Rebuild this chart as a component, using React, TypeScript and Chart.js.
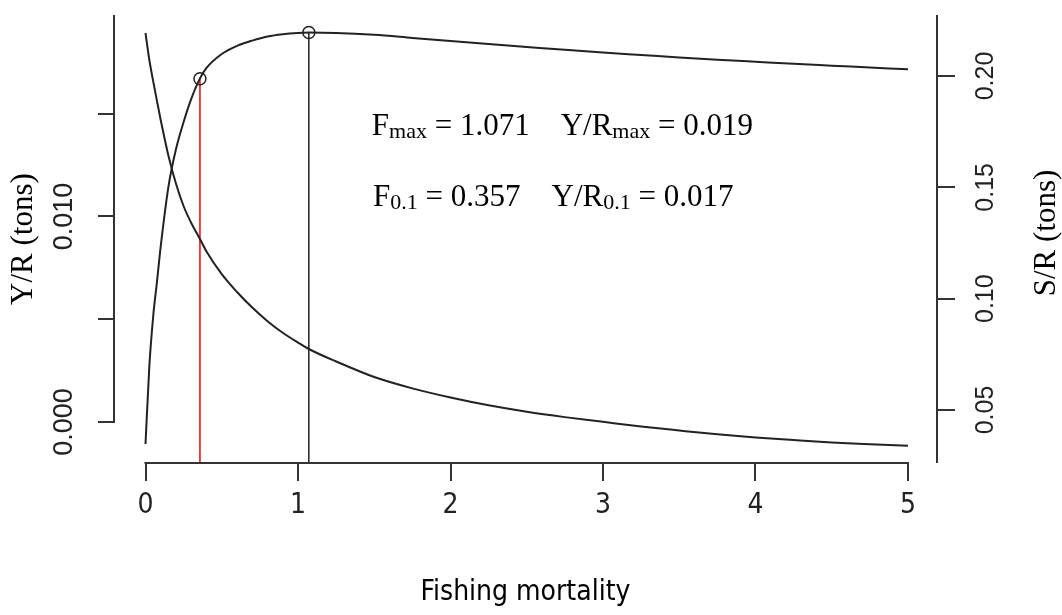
import React, { useEffect, useRef } from "react";
import { Chart, registerables } from "chart.js";

Chart.register(...registerables);

// ---- data ----
const fishingMortality = [
  0, 0.025, 0.05, 0.075, 0.1, 0.15, 0.2, 0.25, 0.3, 0.357, 0.4, 0.5, 0.6, 0.7, 0.8, 0.9, 1.0, 1.071,
  1.25, 1.5, 1.75, 2, 2.25, 2.5, 2.75, 3, 3.25, 3.5, 3.75, 4, 4.25, 4.5, 4.75, 5,
];
const yieldPerRecruit = [
  -0.00107, 0.0027, 0.00511, 0.00681, 0.00856, 0.01143, 0.01328, 0.0146, 0.01572, 0.01672, 0.01723,
  0.01791, 0.0183, 0.01856, 0.01876, 0.01887, 0.01893, 0.01895, 0.01893, 0.01884, 0.01869, 0.01854,
  0.01839, 0.01825, 0.01811, 0.01798, 0.01786, 0.01774, 0.01763, 0.01753, 0.01743, 0.01734, 0.01725,
  0.01716,
];
const spawnerPerRecruit = [
  0.2193, 0.2072, 0.1978, 0.1888, 0.1801, 0.1643, 0.1516, 0.1415, 0.134, 0.1268, 0.1212, 0.111,
  0.103, 0.096, 0.0899, 0.0847, 0.0803, 0.0774, 0.0718, 0.0648, 0.0597, 0.0556, 0.0521, 0.0492,
  0.0468, 0.0447, 0.0426, 0.0408, 0.0391, 0.0377, 0.0365, 0.0354, 0.0346, 0.0339,
];

const xTicks = [0, 1, 2, 3, 4, 5];
const yrTicks = [0, 0.005, 0.01, 0.015];
const yrTickLabels = ["0.000", "", "0.010", ""];
const srTicks = [0.05, 0.1, 0.15, 0.2];
const srTickLabels = ["0.05", "0.10", "0.15", "0.20"];

const F01 = 0.357;
const YR01 = 0.0167;
const FMAX = 1.071;
const YRMAX = 0.01895;

const line1 = [
  ["F", false],
  ["max", true],
  [" = 1.071    ", false],
  ["Y/R", false],
  ["max", true],
  [" = 0.019", false],
];
const line2 = [
  ["F", false],
  ["0.1", true],
  [" = 0.357    ", false],
  ["Y/R", false],
  ["0.1", true],
  [" = 0.017", false],
];

// ---- scale ranges (layout) ----
const X_MIN = -0.2066;
const X_MAX = 5.1902;
const YR_MIN = -0.001995;
const YR_MAX = 0.019805;
const SR_MIN = 0.0262;
const SR_MAX = 0.22739;

const SERIF = '"Liberation Serif", "Times New Roman", Times, serif';
const SANS = '"Liberation Sans", Arial, Helvetica, sans-serif';
const NARROW = '"Liberation Sans Narrow", "Arial Narrow", "DejaVu Sans Condensed", "Liberation Sans", sans-serif';
const INK = "#222";
const AXIS = "#333";

const noPad = (s: any) => {
  s.paddingTop = 0;
  s.paddingBottom = 0;
  s.paddingLeft = 0;
  s.paddingRight = 0;
};

const overlayPlugin = {
  id: "overlay",
  afterDraw(chart: any) {
    const { ctx, chartArea, scales } = chart;
    const xs = scales.x;
    const yl = scales.y;
    ctx.save();
    ctx.strokeStyle = AXIS;
    ctx.lineWidth = 2;
    ctx.beginPath();
    ctx.moveTo(xs.getPixelForValue(xTicks[0]) - 1, chartArea.bottom);
    ctx.lineTo(xs.getPixelForValue(xTicks[xTicks.length - 1]) + 1, chartArea.bottom);
    ctx.stroke();
    ctx.beginPath();
    ctx.moveTo(chartArea.left, yl.getPixelForValue(yrTicks[0]) + 1);
    ctx.lineTo(chartArea.left, chartArea.top);
    ctx.stroke();
    ctx.beginPath();
    ctx.moveTo(chartArea.right, chartArea.top);
    ctx.lineTo(chartArea.right, chartArea.bottom);
    ctx.stroke();

    // right axis title (reads bottom to top)
    ctx.save();
    ctx.translate(chartArea.right + 110, (chartArea.top + chartArea.bottom) / 2 - 6);
    ctx.rotate(-Math.PI / 2);
    ctx.fillStyle = "#000";
    ctx.font = `31px ${SERIF}`;
    ctx.textAlign = "center";
    ctx.textBaseline = "middle";
    ctx.fillText("S/R (tons)", 0, 0);
    ctx.restore();

    // annotation text with subscripts
    const drawRich = (parts: any[], x: number, y: number) => {
      ctx.fillStyle = "#000";
      ctx.textBaseline = "alphabetic";
      ctx.textAlign = "left";
      for (const [text, sub] of parts) {
        ctx.font = sub ? `22px ${SERIF}` : `31px ${SERIF}`;
        ctx.fillText(text, x, y + (sub ? 3 : 0));
        x += ctx.measureText(text).width;
      }
    };
    drawRich(line1, xs.getPixelForValue(1.484), yl.getPixelForValue(0.01396));
    drawRich(line2, xs.getPixelForValue(1.492), yl.getPixelForValue(0.0105));
    ctx.restore();
  },
};

export default function App() {
  const ref = useRef<HTMLCanvasElement | null>(null);

  useEffect(() => {
    document.body.style.margin = "0";
    document.body.style.overflow = "hidden";
    const canvas = ref.current;
    if (!canvas) return;

    const yrData = fishingMortality.map((f, i) => ({ x: f, y: yieldPerRecruit[i] }));
    const srData = fishingMortality.map((f, i) => ({ x: f, y: spawnerPerRecruit[i] }));

    const chart = new Chart(canvas, {
      type: "line",
      data: {
        datasets: [
          {
            label: "reference points",
            data: [
              { x: F01, y: YR01 },
              { x: FMAX, y: YRMAX },
            ],
            yAxisID: "y",
            showLine: false,
            pointRadius: 6,
            pointBorderWidth: 1.5,
            pointBorderColor: INK,
            pointBackgroundColor: "rgba(0,0,0,0)",
          },
          {
            label: "Y/R",
            data: yrData,
            yAxisID: "y",
            borderColor: INK,
            borderWidth: 2,
            pointRadius: 0,
            cubicInterpolationMode: "monotone",
          },
          {
            label: "S/R",
            data: srData,
            yAxisID: "y2",
            borderColor: INK,
            borderWidth: 2,
            pointRadius: 0,
            cubicInterpolationMode: "monotone",
          },
          {
            label: "F0.1",
            data: [
              { x: F01, y: YR01 },
              { x: F01, y: YR_MIN },
            ],
            yAxisID: "y",
            borderColor: "#ff0000",
            borderWidth: 1.5,
            pointRadius: 0,
          },
          {
            label: "Fmax",
            data: [
              { x: FMAX, y: YRMAX },
              { x: FMAX, y: YR_MIN },
            ],
            yAxisID: "y",
            borderColor: INK,
            borderWidth: 1.5,
            pointRadius: 0,
          },
        ],
      },
      options: {
        animation: false,
        responsive: true,
        maintainAspectRatio: false,
        layout: { padding: { top: 15, left: 0, right: 0, bottom: 0 } },
        plugins: { legend: { display: false }, tooltip: { enabled: false } },
        scales: {
          x: {
            type: "linear",
            min: X_MIN,
            max: X_MAX,
            afterBuildTicks: (s: any) => {
              s.ticks = xTicks.map((v) => ({ value: v }));
            },
            afterFit: (s: any) => {
              s.height = 152;
              noPad(s);
            },
            border: { display: false },
            grid: {
              drawOnChartArea: false,
              drawTicks: true,
              tickLength: 18,
              color: AXIS,
              lineWidth: 2,
            },
            ticks: {
              autoSkip: false,
              maxRotation: 0,
              minRotation: 0,
              padding: 8,
              color: INK,
              font: { family: NARROW, size: 28 },
              callback: (v: any) => String(v),
            },
            title: {
              display: true,
              text: "Fishing mortality",
              color: "#000",
              font: { family: NARROW, size: 28 },
              padding: { top: 0, bottom: 5 },
            },
          },
          y: {
            type: "linear",
            position: "left",
            min: YR_MIN,
            max: YR_MAX,
            afterBuildTicks: (s: any) => {
              s.ticks = yrTicks.map((v) => ({ value: v }));
            },
            afterFit: (s: any) => {
              s.width = 114;
              noPad(s);
            },
            border: { display: false },
            grid: {
              drawOnChartArea: false,
              drawTicks: true,
              tickLength: 16,
              color: AXIS,
              lineWidth: 2,
            },
            ticks: {
              autoSkip: false,
              minRotation: 90,
              maxRotation: 90,
              crossAlign: "center",
              padding: 0,
              color: INK,
              font: { family: SANS, size: 27 },
              callback: (v: any, i: number) => yrTickLabels[i],
            },
            title: {
              display: true,
              text: "Y/R (tons)",
              color: "#000",
              font: { family: SERIF, size: 31 },
              padding: { top: 5, bottom: 0 },
            },
          },
          y2: {
            type: "linear",
            position: "right",
            min: SR_MIN,
            max: SR_MAX,
            afterBuildTicks: (s: any) => {
              s.ticks = srTicks.map((v) => ({ value: v }));
            },
            afterFit: (s: any) => {
              s.width = 125;
              noPad(s);
            },
            border: { display: false },
            grid: {
              drawOnChartArea: false,
              drawTicks: true,
              tickLength: 18,
              color: AXIS,
              lineWidth: 2,
            },
            ticks: {
              autoSkip: false,
              minRotation: 90,
              maxRotation: 90,
              crossAlign: "center",
              padding: 7,
              color: INK,
              font: { family: SANS, size: 25 },
              callback: (v: any, i: number) => srTickLabels[i],
            },
          },
        },
      },
      plugins: [overlayPlugin],
    });

    return () => chart.destroy();
  }, []);

  return (
    <div style={{ position: "relative", width: "1062px", height: "615px", background: "#fff" }}>
      <canvas ref={ref} />
    </div>
  );
}
